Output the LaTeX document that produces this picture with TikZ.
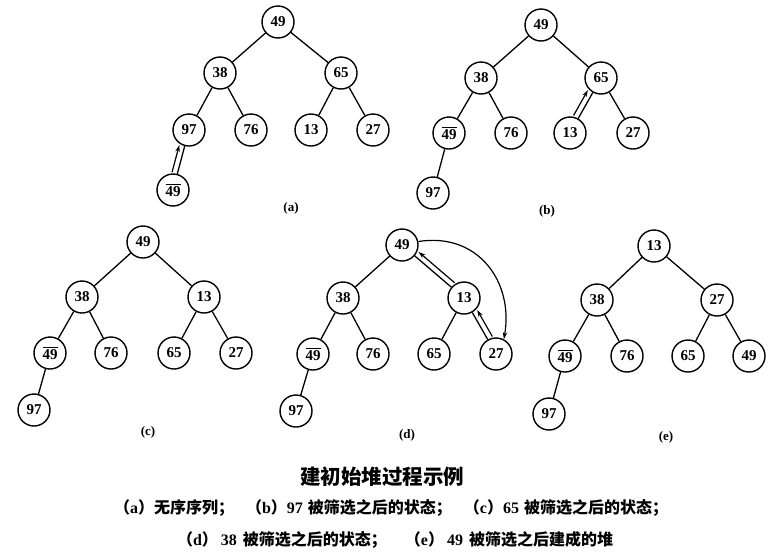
\documentclass[tikz,border=0pt]{standalone}
\usepackage{fontspec}
\setmainfont{Liberation Serif}
\newfontfamily\cjk{Noto Sans CJK SC}
\usepackage{tikz}
\usetikzlibrary{arrows.meta,calc}
\tikzset{
  key/.style={circle, draw, line width=1.4pt, minimum size=32pt, inner sep=0pt,
    font=\fontsize{15}{15}\selectfont\bfseries},
  treeln/.style={line width=1.3pt},
  siftln/.style={-{Stealth[length=7pt,width=4.5pt]}, line width=1.2pt},
  sublbl/.style={font=\fontsize{13}{13}\selectfont\bfseries},
  capln/.style={font=\fontsize{16}{16}\selectfont\bfseries},
}
\newcommand{\zh}[1]{{\cjk #1}}
% extra line along an edge, from child #1 to parent #2, on side #3 (90 left, -90 right)
\newcommand{\siftpar}[3]{%
  \path ($(#1)!5.5pt!#3:(#2)$) coordinate (s1) ($(#2)!5.5pt!-#3:(#1)$) coordinate (s2);
  \draw[siftln] ($(s1)!17pt!(s2)$) -- ($(s2)!17pt!(s1)$);
}
\newcommand{\dupkey}[1]{\leavevmode\vbox{\hrule height 1pt\kern 1.3pt\hbox{#1}}}

\begin{document}
\begin{tikzpicture}[x=1pt, y=-1pt]
  \useasboundingbox (0,0) rectangle (776,555);
  % (a) unordered sequence
  \node[key] (a1) at (278,22) {49};
  \node[key] (a2) at (220,73) {38};
  \node[key] (a3) at (341,73) {65};
  \node[key] (a4) at (189,130) {97};
  \node[key] (a5) at (251,130) {76};
  \node[key] (a6) at (311,130) {13};
  \node[key] (a7) at (373,130) {27};
  \node[key] (a8) at (173,190) {\dupkey{49}};
  \node[sublbl] (la) at (291,208) {(a)};
  % (b) after sifting 97
  \node[key] (b1) at (541,25) {49};
  \node[key] (b2) at (481,78) {38};
  \node[key] (b3) at (601,78) {65};
  \node[key] (b4) at (449,133) {\dupkey{49}};
  \node[key] (b5) at (511,133) {76};
  \node[key] (b6) at (570,133) {13};
  \node[key] (b7) at (633,133) {27};
  \node[key] (b8) at (433,193) {97};
  \node[sublbl] (lb) at (547,211) {(b)};
  % (c) after sifting 65
  \node[key] (c1) at (143,242) {49};
  \node[key] (c2) at (82,297) {38};
  \node[key] (c3) at (204,297) {13};
  \node[key] (c4) at (50,353) {\dupkey{49}};
  \node[key] (c5) at (111,353) {76};
  \node[key] (c6) at (174,353) {65};
  \node[key] (c7) at (236,353) {27};
  \node[key] (c8) at (34,410) {97};
  \node[sublbl] (lc) at (148,432) {(c)};
  % (d) after sifting 38
  \node[key] (d1) at (402,245) {49};
  \node[key] (d2) at (343,298) {38};
  \node[key] (d3) at (464,298) {13};
  \node[key] (d4) at (313,354) {\dupkey{49}};
  \node[key] (d5) at (373,354) {76};
  \node[key] (d6) at (434,354) {65};
  \node[key] (d7) at (496,354) {27};
  \node[key] (d8) at (296,411) {97};
  \node[sublbl] (ld) at (407,435) {(d)};
  % (e) the heap
  \node[key] (e1) at (654,246) {13};
  \node[key] (e2) at (597,300) {38};
  \node[key] (e3) at (717,300) {27};
  \node[key] (e4) at (565,356) {\dupkey{49}};
  \node[key] (e5) at (627,356) {76};
  \node[key] (e6) at (688,356) {65};
  \node[key] (e7) at (749,356) {49};
  \node[key] (e8) at (549,414) {97};
  \node[sublbl] (le) at (666,437) {(e)};
  % tree edges
  \foreach \t in {a,b,c,d,e} {
    \foreach \p/\c in {1/2,1/3,2/4,2/5,3/6,3/7,4/8}
      \draw[treeln] (\t\p) -- (\t\c);
  }
  % sifting marks
  \siftpar{a8}{a4}{90}
  \siftpar{b6}{b3}{90}
  \siftpar{d3}{d1}{-90}
  \siftpar{d7}{d3}{-90}
  \draw[siftln] (d1.12) .. controls (478,232) and (514,282) .. (d7.62);
  % captions
  \node[font=\cjk\bfseries\fontsize{20.5}{20.5}\selectfont] (ttl) at (382,477) {建初始堆过程示例};
  \node[capln] (cap1) at (391,508) {\zh{（}a\zh{）}\zh{无序序列；}\hspace{12pt}\zh{（}b\zh{）}97\hspace{5pt}\zh{被筛选之后的状态；}\hspace{12pt}\zh{（}c\zh{）}65\hspace{5pt}\zh{被筛选之后的状态；}};
  \node[capln] (cap2) at (395,540) {\zh{（}d\zh{）}\hspace{3pt}38\hspace{6pt}\zh{被筛选之后的状态；}\hspace{18pt}\zh{（}e\zh{）}\hspace{3pt}49\hspace{6pt}\zh{被筛选之后建成的堆}};
\end{tikzpicture}
\end{document}
